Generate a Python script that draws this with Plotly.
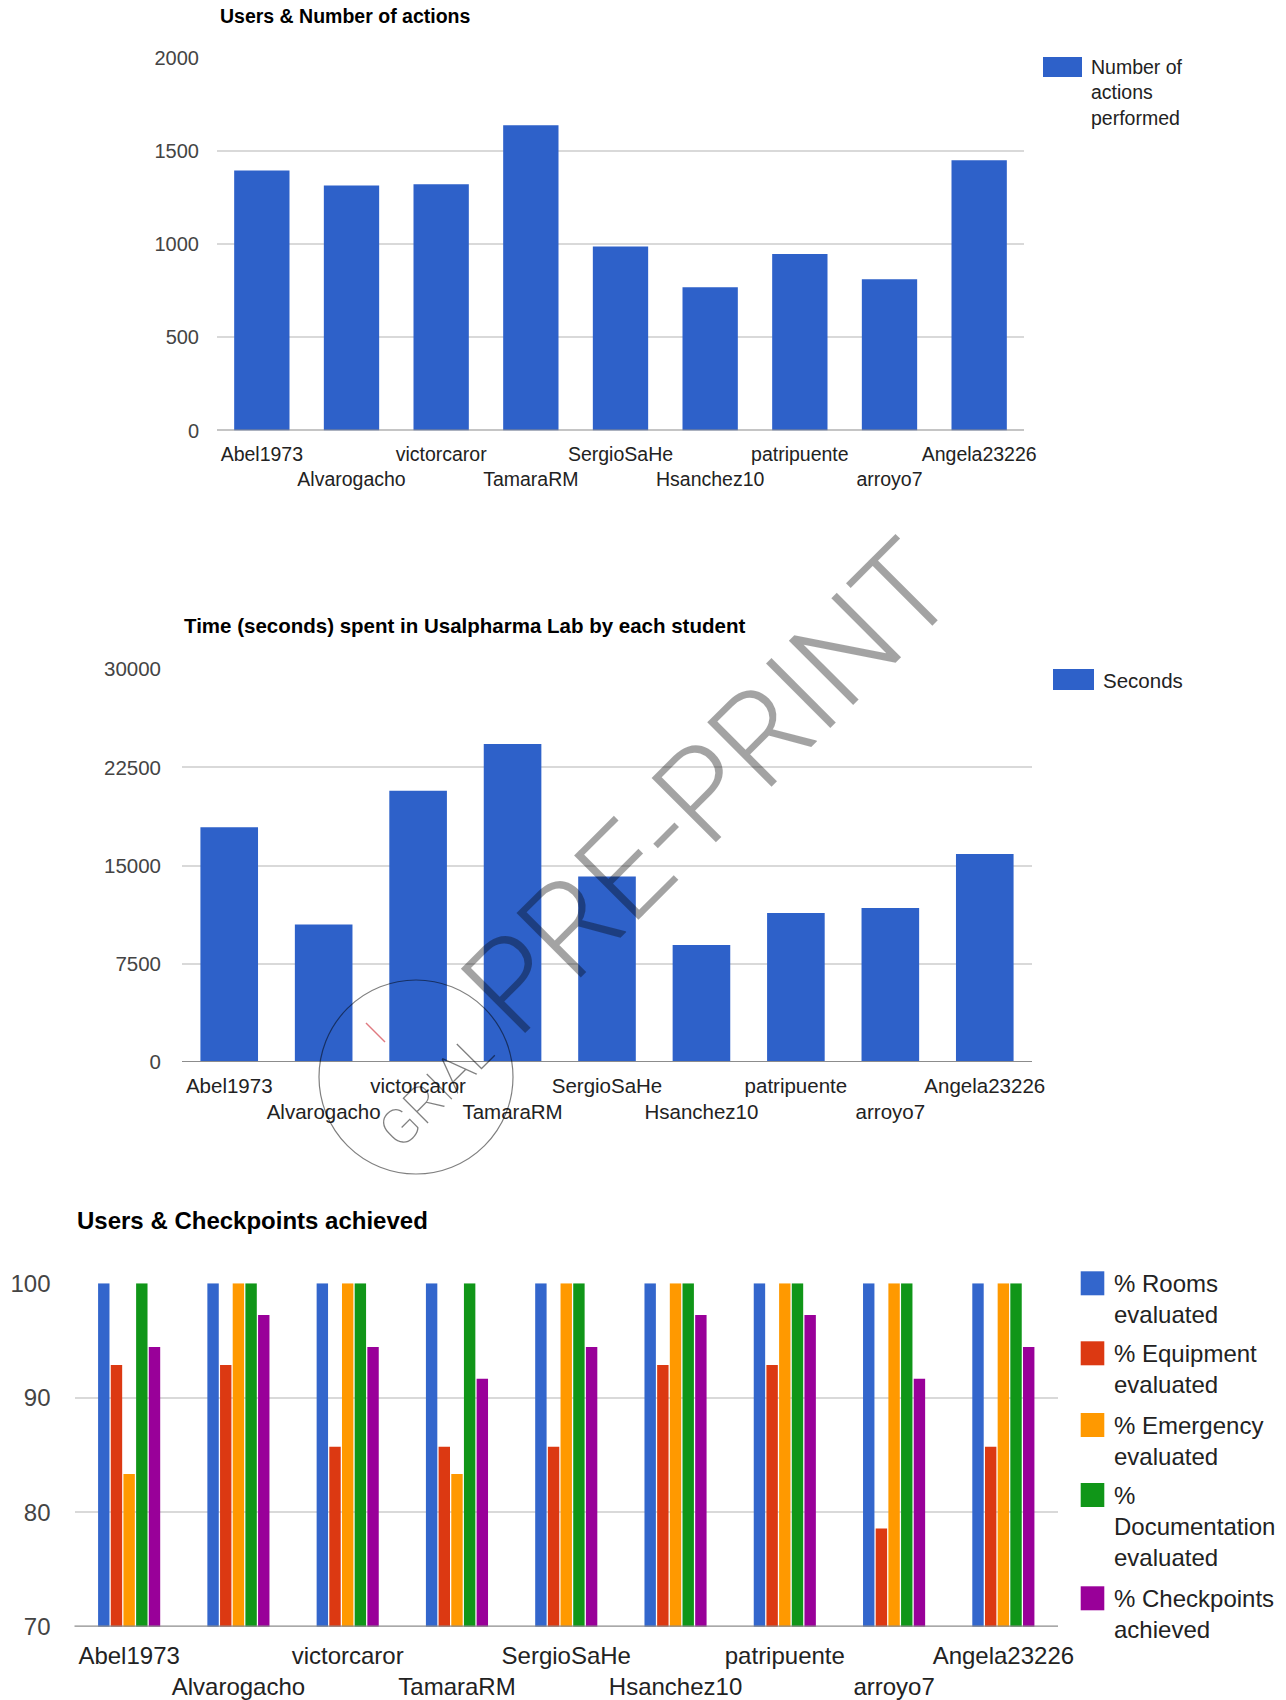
import plotly.graph_objects as go

# ---- data -------------------------------------------------------------
users = ["Abel1973", "Alvarogacho", "victorcaror", "TamaraRM", "SergioSaHe",
         "Hsanchez10", "patripuente", "arroyo7", "Angela23226"]

actions = [1394, 1314, 1321, 1637, 987, 769, 947, 812, 1450]
seconds = [17940, 10510, 20720, 24290, 14170, 8930, 11380, 11770, 15890]

rooms_pct = [100, 100, 100, 100, 100, 100, 100, 100, 100]
equipment_pct = [92.86, 92.86, 85.71, 85.71, 85.71, 92.86, 92.86, 78.57, 85.71]
emergency_pct = [83.33, 100, 100, 83.33, 100, 100, 100, 100, 100]
documentation_pct = [100, 100, 100, 100, 100, 100, 100, 100, 100]
checkpoints_pct = [94.44, 97.22, 94.44, 91.67, 94.44, 97.22, 97.22, 91.67, 94.44]

actions_ticks = [0, 500, 1000, 1500, 2000]
seconds_ticks = [0, 7500, 15000, 22500, 30000]
percent_ticks = [70, 80, 90, 100]

checkpoint_series = [
    ("% Rooms<br>evaluated", rooms_pct, "#3366cc"),
    ("% Equipment<br>evaluated", equipment_pct, "#dc3912"),
    ("% Emergency<br>evaluated", emergency_pct, "#ff9900"),
    ("%<br>Documentation<br>evaluated", documentation_pct, "#109618"),
    ("% Checkpoints<br>achieved", checkpoints_pct, "#990099"),
]

# ---- page geometry helpers (pixel -> paper) ----------------------------
W, H = 1286, 1700
FONT = "Liberation Sans, Arial, Helvetica, sans-serif"


def px(x):
    return x / W


def py(y):
    return 1 - y / H


# staggered category labels: every other name drops to a second row
stagger = [u if i % 2 == 0 else "<br>" + u for i, u in enumerate(users)]

fig = go.Figure()

# ---- chart 1: number of actions --------------------------------------
fig.add_trace(go.Bar(x=users, y=actions, xaxis="x", yaxis="y",
                     marker=dict(color="#2e61c9", line=dict(width=0)),
                     width=0.617, showlegend=False, name="Number of actions performed"))

# ---- chart 2: seconds ------------------------------------------------
fig.add_trace(go.Bar(x=users, y=seconds, xaxis="x2", yaxis="y2",
                     marker=dict(color="#2e61c9", line=dict(width=0)),
                     width=0.61, showlegend=False, name="Seconds"))

# ---- chart 3: checkpoints (grouped) ----------------------------------
for label, vals, col in checkpoint_series:
    fig.add_trace(go.Bar(x=users, y=vals, xaxis="x3", yaxis="y3",
                         marker=dict(color=col, line=dict(width=0)),
                         showlegend=False, name=label.replace("<br>", " ")))


def xaxis_style(domain, anchor, size, standoff):
    return dict(domain=domain, anchor=anchor, type="category",
                range=[-0.5, 8.5], tickmode="array", tickvals=users,
                ticktext=stagger, tickangle=0, ticks="",
                ticklabelstandoff=standoff, automargin=False,
                tickfont=dict(family=FONT, size=size, color="#222222"),
                showgrid=False, zeroline=False, showline=False, fixedrange=True)


def yaxis_style(domain, anchor, rng, tickvals, size, standoff):
    return dict(domain=domain, anchor=anchor, range=rng, tickmode="array",
                tickvals=tickvals, ticktext=[str(v) for v in tickvals],
                ticks="", ticklabelstandoff=standoff, automargin=False,
                tickfont=dict(family=FONT, size=size, color="#444444"),
                showgrid=True, gridcolor="#d9d9d9", gridwidth=1.6,
                zeroline=False, showline=False, fixedrange=True)


layout = dict(
    width=W, height=H, autosize=False,
    margin=dict(l=0, r=0, t=0, b=0, pad=0, autoexpand=False),
    paper_bgcolor="white", plot_bgcolor="white",
    barmode="group", bargap=0.42, bargroupgap=0.1,
    showlegend=False,
    xaxis=xaxis_style([px(217), px(1024)], "y", 19.5, 10),
    yaxis=yaxis_style([py(430.6), py(57.6)], "x", [0, 2000], actions_ticks, 20, 17),
    xaxis2=xaxis_style([px(182), px(1032)], "y2", 20.5, 9),
    yaxis2=yaxis_style([py(1062), py(669.3)], "x2", [0, 30000], seconds_ticks, 20.5, 20),
    xaxis3=xaxis_style([px(74.5), px(1058)], "y3", 24, 12),
    yaxis3=yaxis_style([py(1626.7), py(1283.3)], "x3", [70, 100], percent_ticks, 24, 23),
)
fig.update_layout(**layout)

annotations = []
shapes = []

# baselines along the bottom of each chart
for xa, ya, base in [("x", "y", actions_ticks[0]), ("x2", "y2", seconds_ticks[0]),
                     ("x3", "y3", percent_ticks[0])]:
    shapes.append(dict(type="line", xref=xa + " domain", yref=ya,
                       x0=0, x1=1, y0=base, y1=base,
                       line=dict(color="#8c8c8c", width=2.2), layer="above"))

# titles
for text, x, y, size in [
    ("Users & Number of actions", 218, 16, 19.5),
    ("Time (seconds) spent in Usalpharma Lab by each student", 182, 625.5, 20.5),
    ("Users & Checkpoints achieved", 75, 1220, 24),
]:
    annotations.append(dict(text="<b>%s</b>" % text, x=px(x), y=py(y), xref="paper", yref="paper",
                            xanchor="left", yanchor="middle", showarrow=False,
                            font=dict(family=FONT, size=size, color="#000000")))

# legend swatches and labels
legend_items = [
    # (swatch x0, x1, y0, y1, text, text x, first line centre y, font size, colour)
    (1043, 1082, 57, 77, "Number of<br>actions<br>performed", 1089, 66.7, 19.5, "#2e61c9"),
    (1053, 1094, 669, 690, "Seconds", 1101, 680, 20.5, "#2e61c9"),
]
first_lines = [1283.3, 1353.3, 1425, 1495, 1598.3]
for (label, vals, col), yc in zip(checkpoint_series, first_lines):
    legend_items.append((1080.7, 1104.3, yc - 12, yc + 12, label, 1112, yc, 24, col))

for x0, x1, y0, y1, text, tx, ty, size, col in legend_items:
    shapes.append(dict(type="rect", xref="paper", yref="paper",
                       x0=px(x0), x1=px(x1), y0=py(y1), y1=py(y0),
                       fillcolor=col, line=dict(width=0), layer="above"))
    nlines = text.count("<br>") + 1
    mid = ty + (nlines - 1) * size * 1.3 / 2
    annotations.append(dict(text=text, x=px(tx), y=py(mid), xref="paper", yref="paper",
                            xanchor="left", yanchor="middle", align="left", showarrow=False,
                            font=dict(family=FONT, size=size, color="#222222")))

# pre-print watermark and stamp
annotations.append(dict(text="PRE-PRINT", x=px(708), y=py(788), xref="paper", yref="paper",
                        xanchor="center", yanchor="middle", showarrow=False, textangle=-45,
                        font=dict(family="Roboto, Lato, sans-serif", size=128, weight=300,
                                  color="rgba(0,0,0,0.36)")))
annotations.append(dict(text="GRIAL", x=px(436), y=py(1091), xref="paper", yref="paper",
                        xanchor="center", yanchor="middle", showarrow=False, textangle=-45,
                        font=dict(family="Roboto, Lato, sans-serif", size=50, weight=100,
                                  color="rgba(0,0,0,0.5)")))
shapes.append(dict(type="circle", xref="paper", yref="paper",
                   x0=px(319), x1=px(513), y0=py(1174), y1=py(980),
                   line=dict(color="rgba(0,0,0,0.5)", width=1.2), fillcolor="rgba(0,0,0,0)",
                   layer="above"))
shapes.append(dict(type="line", xref="paper", yref="paper",
                   x0=px(366), y0=py(1023), x1=px(385), y1=py(1042),
                   line=dict(color="#e07a80", width=1.5), layer="above"))

fig.update_layout(annotations=annotations, shapes=shapes)

fig.write_html("out.html", config={"displayModeBar": False})
